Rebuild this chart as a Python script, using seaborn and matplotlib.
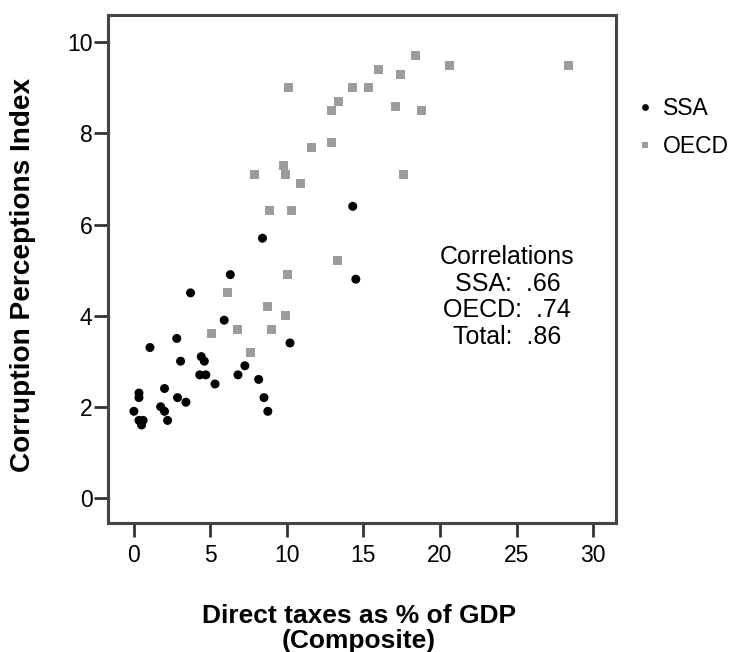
#!/usr/bin/env python3
"""
Corruption Perceptions Index vs direct taxes (% of GDP), SSA vs OECD
"""

import numpy as np
import pandas as pd
import matplotlib
matplotlib.use('Agg')
import matplotlib.pyplot as plt
import seaborn as sns

# SSA 国家
ssa_tax = [8.4, 14.3, 14.5, 6.3, 3.7, 5.9, 10.2, 2.8, 1.05, 3.05, 4.4, 4.6,
           4.3, 4.7, 5.3, 7.25, 6.8, 8.15, 8.5, 8.75, 2.0, 0.33, 0.33, 2.85,
           3.4, 0.0, 1.75, 2.0, 2.2, 0.33, 0.6, 0.5]
ssa_cpi = [5.7, 6.4, 4.8, 4.9, 4.5, 3.9, 3.4, 3.5, 3.3, 3.0, 3.1, 3.0,
           2.7, 2.7, 2.5, 2.9, 2.7, 2.6, 2.2, 1.9, 2.4, 2.3, 2.2, 2.2,
           2.1, 1.9, 2.0, 1.9, 1.7, 1.7, 1.7, 1.6]

# OECD 国家
oecd_tax = [10.1, 14.3, 15.3, 16.0, 17.4, 18.4, 20.6, 28.4, 13.4, 12.9,
            17.1, 18.8, 11.6, 12.9, 9.8, 7.9, 9.9, 10.9, 17.6, 8.85,
            10.3, 13.3, 10.05, 6.1, 8.7, 9.9, 5.1, 6.8, 9.0, 7.6]
oecd_cpi = [9.0, 9.0, 9.0, 9.4, 9.3, 9.7, 9.5, 9.5, 8.7, 8.5,
            8.6, 8.5, 7.7, 7.8, 7.3, 7.1, 7.1, 6.9, 7.1, 6.3,
            6.3, 5.2, 4.9, 4.5, 4.2, 4.0, 3.6, 3.7, 3.7, 3.2]

groups = ['SSA', 'OECD']
corr_lines = ['Correlations', 'SSA:  .66', 'OECD:  .74', 'Total:  .86']


def build_frame():
    df_ssa = pd.DataFrame({'tax': ssa_tax, 'cpi': ssa_cpi, 'group': 'SSA'})
    df_oecd = pd.DataFrame({'tax': oecd_tax, 'cpi': oecd_cpi, 'group': 'OECD'})
    return pd.concat([df_ssa, df_oecd], ignore_index=True)


def main():
    sns.set_style('white')
    plt.rcParams['font.family'] = ['Liberation Sans', 'DejaVu Sans']
    plt.rcParams['text.color'] = 'black'
    plt.rcParams['axes.labelcolor'] = 'black'
    plt.rcParams['xtick.labelcolor'] = 'black'
    plt.rcParams['ytick.labelcolor'] = 'black'

    df = build_frame()

    fig = plt.figure(figsize=(7.29, 6.52), dpi=100)
    ax = fig.add_axes([0.148, 0.198, 0.697, 0.779])

    sns.scatterplot(data=df, x='tax', y='cpi', hue='group', style='group',
                    hue_order=groups, style_order=groups,
                    palette={'SSA': 'black', 'OECD': '#9c9c9c'},
                    markers={'SSA': 'o', 'OECD': 's'},
                    s=42, linewidth=0, ax=ax)

    ax.set_xlim(-1.7, 31.5)
    ax.set_ylim(-0.55, 10.6)
    ax.set_xticks([0, 5, 10, 15, 20, 25, 30])
    ax.set_yticks([0, 2, 4, 6, 8, 10])
    ax.tick_params(axis='both', direction='out', length=10, width=2,
                   color='#333333', labelsize=16.5, left=True, bottom=True)
    ax.tick_params(axis='x', pad=5)
    ax.tick_params(axis='y', pad=1)

    for sp in ax.spines.values():
        sp.set_color('#444444')
        sp.set_linewidth(2.2)

    ax.set_xlabel('Direct taxes as % of GDP\n(Composite)', fontsize=19,
                  fontweight='bold', linespacing=1.05, va='center')
    ax.xaxis.set_label_coords(0.494, -0.207)
    ax.set_ylabel('Corruption Perceptions Index', fontsize=20.2,
                  fontweight='bold', va='center')
    ax.yaxis.set_label_coords(-0.167, 0.488)

    # 相关系数文本
    for i, line in enumerate(corr_lines):
        ax.text(24.4, 5.28 - i * 0.58, line, ha='center', va='center',
                fontsize=18)

    handles, labels = ax.get_legend_handles_labels()
    ax.legend(handles, labels, loc='center left',
              bbox_to_anchor=(0.869, 0.8045), bbox_transform=fig.transFigure,
              frameon=False, fontsize=16.5, markerscale=0.75,
              handlelength=1.0, handletextpad=0.28, labelspacing=0.68,
              borderaxespad=0, borderpad=0)

    plt.savefig('out.png', dpi=100, facecolor='white')
    plt.close()


if __name__ == '__main__':
    main()
